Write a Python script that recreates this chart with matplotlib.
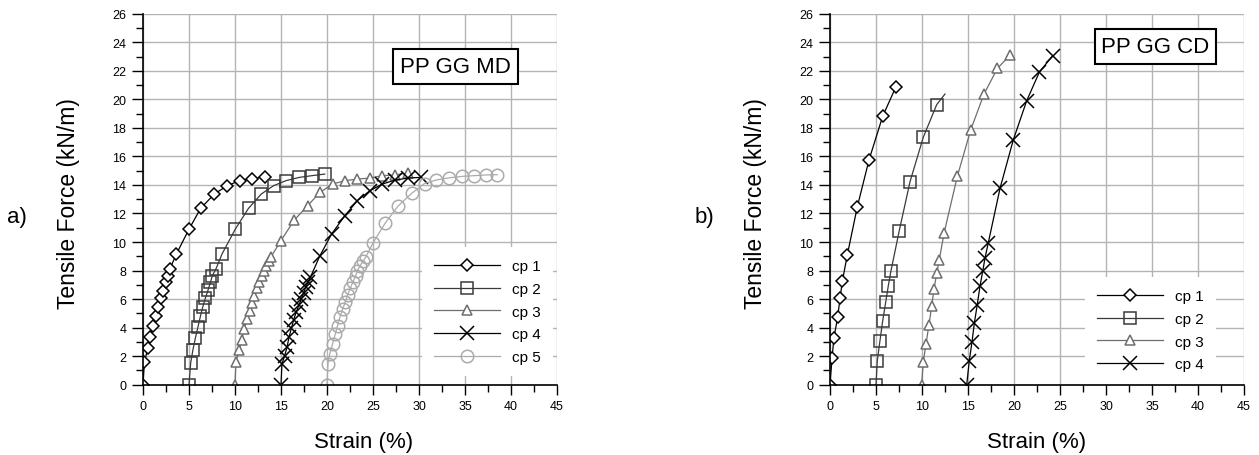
import matplotlib
matplotlib.use("Agg")
import matplotlib.pyplot as plt
from matplotlib.ticker import MultipleLocator

plt.rcParams['font.family'] = ['Liberation Sans', 'DejaVu Sans']

# ---------------- data: panel a) PP GG MD ----------------
md_cp1_x = [0, 0.15, 0.54, 0.8, 1.09, 1.38, 1.67, 1.92, 2.17, 2.46, 2.68, 2.93, 3.63, 5.0, 6.27, 7.75, 9.17, 10.5, 11.85, 13.23]
md_cp1_y = [0, 1.61, 2.55, 3.36, 4.11, 4.84, 5.47, 6.05, 6.59, 7.17, 7.64, 8.13, 9.16, 10.9, 12.36, 13.36, 13.95, 14.3, 14.41, 14.58]

md_cp2_x = [5.0, 5.18, 5.43, 5.7, 5.98, 6.24, 6.49, 6.78, 7.07, 7.33, 7.54, 7.94, 8.59, 10.03, 11.47, 12.85, 14.2, 15.55, 17.0, 18.37, 19.75]
md_cp2_y = [0, 1.52, 2.45, 3.29, 4.06, 4.79, 5.44, 6.07, 6.63, 7.17, 7.64, 8.13, 9.16, 10.9, 12.36, 13.36, 13.95, 14.3, 14.53, 14.65, 14.76]

md_cp3_x = [10.0, 10.1, 10.45, 10.75, 11.0, 11.3, 11.6, 11.85, 12.1, 12.35, 12.6, 12.9, 13.15, 13.4, 13.65, 13.9, 15.0, 16.45, 17.9, 19.24, 20.6, 21.95, 23.3, 24.67, 26.0, 27.4, 28.8]
md_cp3_y = [0, 1.61, 2.4, 3.15, 3.9, 4.6, 5.2, 5.75, 6.25, 6.75, 7.2, 7.6, 8.0, 8.35, 8.65, 8.95, 10.1, 11.54, 12.55, 13.48, 14.06, 14.3, 14.41, 14.48, 14.65, 14.7, 14.84]

md_cp4_x = [15.0, 15.1, 15.4, 15.65, 15.87, 16.13, 16.38, 16.67, 16.96, 17.2, 17.46, 17.68, 17.93, 18.2, 19.2, 20.5, 21.95, 23.3, 24.67, 26.0, 27.4, 28.8, 30.2]
md_cp4_y = [0, 1.45, 2.03, 2.62, 3.32, 3.95, 4.56, 5.12, 5.59, 6.0, 6.43, 6.83, 7.18, 7.53, 9.0, 10.56, 11.85, 12.9, 13.6, 14.06, 14.34, 14.48, 14.53]

md_cp5_x = [20.0, 20.1, 20.3, 20.6, 20.9, 21.15, 21.4, 21.7, 22.0, 22.24, 22.53, 22.8, 23.1, 23.3, 23.6, 23.9, 24.2, 25.0, 26.33, 27.7, 29.2, 30.6, 31.9, 33.3, 34.7, 36.0, 37.3, 38.5]
md_cp5_y = [0, 1.45, 2.15, 2.85, 3.55, 4.13, 4.72, 5.3, 5.82, 6.29, 6.75, 7.18, 7.6, 7.99, 8.34, 8.65, 8.93, 9.93, 11.33, 12.5, 13.41, 14.1, 14.35, 14.5, 14.6, 14.65, 14.7, 14.72]

# ---------------- data: panel b) PP GG CD ----------------
cd_cp1_x = [0, 0.22, 0.43, 0.83, 1.09, 1.34, 1.88, 2.97, 4.24, 5.72, 7.14]
cd_cp1_y = [0, 1.85, 3.3, 4.72, 6.05, 7.24, 9.09, 12.47, 15.75, 18.8, 20.84]

cd_cp2_x = [5.0, 5.14, 5.43, 5.72, 6.05, 6.34, 6.63, 7.53, 8.7, 10.14, 11.6, 12.5]
cd_cp2_y = [0, 1.68, 3.08, 4.44, 5.77, 6.94, 7.99, 10.8, 14.23, 17.34, 19.63, 20.37]

cd_cp3_x = [9.96, 10.14, 10.43, 10.76, 11.05, 11.3, 11.6, 11.88, 12.4, 13.84, 15.29, 16.74, 18.2, 19.57]
cd_cp3_y = [0, 1.61, 2.85, 4.2, 5.49, 6.7, 7.8, 8.76, 10.63, 14.6, 17.85, 20.37, 22.17, 23.1]

cd_cp4_x = [14.86, 15.14, 15.43, 15.69, 16.0, 16.3, 16.6, 16.85, 17.2, 18.48, 19.92, 21.38, 22.75, 24.2]
cd_cp4_y = [0, 1.68, 2.97, 4.32, 5.58, 6.9, 7.95, 8.88, 9.93, 13.76, 17.15, 19.9, 21.9, 23.06]

labels = ['cp 1', 'cp 2', 'cp 3', 'cp 4', 'cp 5']

styles = [
    dict(color='black', marker='D', ms=6.0, mfc='white'),
    dict(color='#3a3a3a', marker='s', ms=8.5, mfc='none'),
    dict(color='#6e6e6e', marker='^', ms=7.5, mfc='white'),
    dict(color='black', marker='x', ms=9.5, mfc='none'),
    dict(color='#ababab', marker='o', ms=9.0, mfc='none'),
]

W, H = 1259, 456
fig = plt.figure(figsize=(W / 100, H / 100), dpi=100)

def make_axes(left_px):
    return fig.add_axes([left_px / W, (H - 385.7) / H, 414 / W, 371 / H])

def style_axes(ax):
    ax.set_xlim(0, 45)
    ax.set_ylim(0, 26)
    ax.xaxis.set_major_locator(MultipleLocator(5))
    ax.xaxis.set_minor_locator(MultipleLocator(2.5))
    ax.yaxis.set_major_locator(MultipleLocator(2))
    ax.yaxis.set_minor_locator(MultipleLocator(1))
    ax.grid(True, which='major', color='#b4b4b4', lw=1.0)
    ax.set_axisbelow(True)
    for s in ['top', 'right']:
        ax.spines[s].set_visible(False)
    for s in ['left', 'bottom']:
        ax.spines[s].set_linewidth(1.2)
        ax.spines[s].set_zorder(5)
    ax.tick_params(axis='both', which='major', direction='out', width=1.0, labelsize=9, pad=4)
    ax.tick_params(axis='y', which='major', length=8)
    ax.tick_params(axis='y', which='minor', length=5, width=1.0)
    ax.tick_params(axis='x', which='major', length=7)
    ax.tick_params(axis='x', which='minor', length=5, width=1.0)
    ax.set_xlabel('Strain (%)', fontsize=16)
    ax.set_ylabel('Tensile Force (kN/m)', fontsize=16.5)
    ax.yaxis.set_label_coords(-63 / 414, 0.49)

# ---- panel a
ax1 = make_axes(143)
style_axes(ax1)
md_x = [md_cp1_x, md_cp2_x, md_cp3_x, md_cp4_x, md_cp5_x]
md_y = [md_cp1_y, md_cp2_y, md_cp3_y, md_cp4_y, md_cp5_y]
for x, y, st, lab in zip(md_x, md_y, styles, labels):
    ax1.plot(x, y, lw=0.9, mew=1.1, mec=st['color'], label=lab, **st)
ax1.xaxis.set_label_coords(221 / 414, -0.124)
ax1.text(0.621, 0.858, 'PP GG MD', transform=ax1.transAxes, fontsize=16,
         ha='left', va='center',
         bbox=dict(boxstyle='square,pad=0.3', fc='white', ec='black', lw=1.5))
leg1 = ax1.legend(loc='upper left', bbox_to_anchor=(0.674, 0.371), borderaxespad=0,
                  fontsize=11, handlelength=4.3, handletextpad=0.8, labelspacing=0.57,
                  borderpad=0.8, frameon=True, fancybox=False, framealpha=1,
                  facecolor='white', edgecolor='none')
fig.text(17 / W, 1 - 218 / H, 'a)', fontsize=16, ha='center', va='center')

# ---- panel b
ax2 = make_axes(830)
style_axes(ax2)
cd_x = [cd_cp1_x, cd_cp2_x, cd_cp3_x, cd_cp4_x]
cd_y = [cd_cp1_y, cd_cp2_y, cd_cp3_y, cd_cp4_y]
for i, (x, y, st, lab) in enumerate(zip(cd_x, cd_y, styles[:4], labels[:4])):
    n = len(x) - 1 if i == 1 else len(x)
    ax2.plot(x, y, lw=0.9, mew=1.1, mec=st['color'], label=lab,
             markevery=list(range(n)), **st)
ax2.xaxis.set_label_coords(0.5, -0.124)
ax2.text(0.655, 0.912, 'PP GG CD', transform=ax2.transAxes, fontsize=16,
         ha='left', va='center',
         bbox=dict(boxstyle='square,pad=0.3', fc='white', ec='black', lw=1.5))
leg2 = ax2.legend(loc='upper left', bbox_to_anchor=(0.616, 0.290), borderaxespad=0,
                  fontsize=11, handlelength=4.3, handletextpad=0.8, labelspacing=0.57,
                  borderpad=0.8, frameon=True, fancybox=False, framealpha=1,
                  facecolor='white', edgecolor='none')
fig.text(704 / W, 1 - 218 / H, 'b)', fontsize=16, ha='center', va='center')

fig.savefig('out.png', dpi=100)
